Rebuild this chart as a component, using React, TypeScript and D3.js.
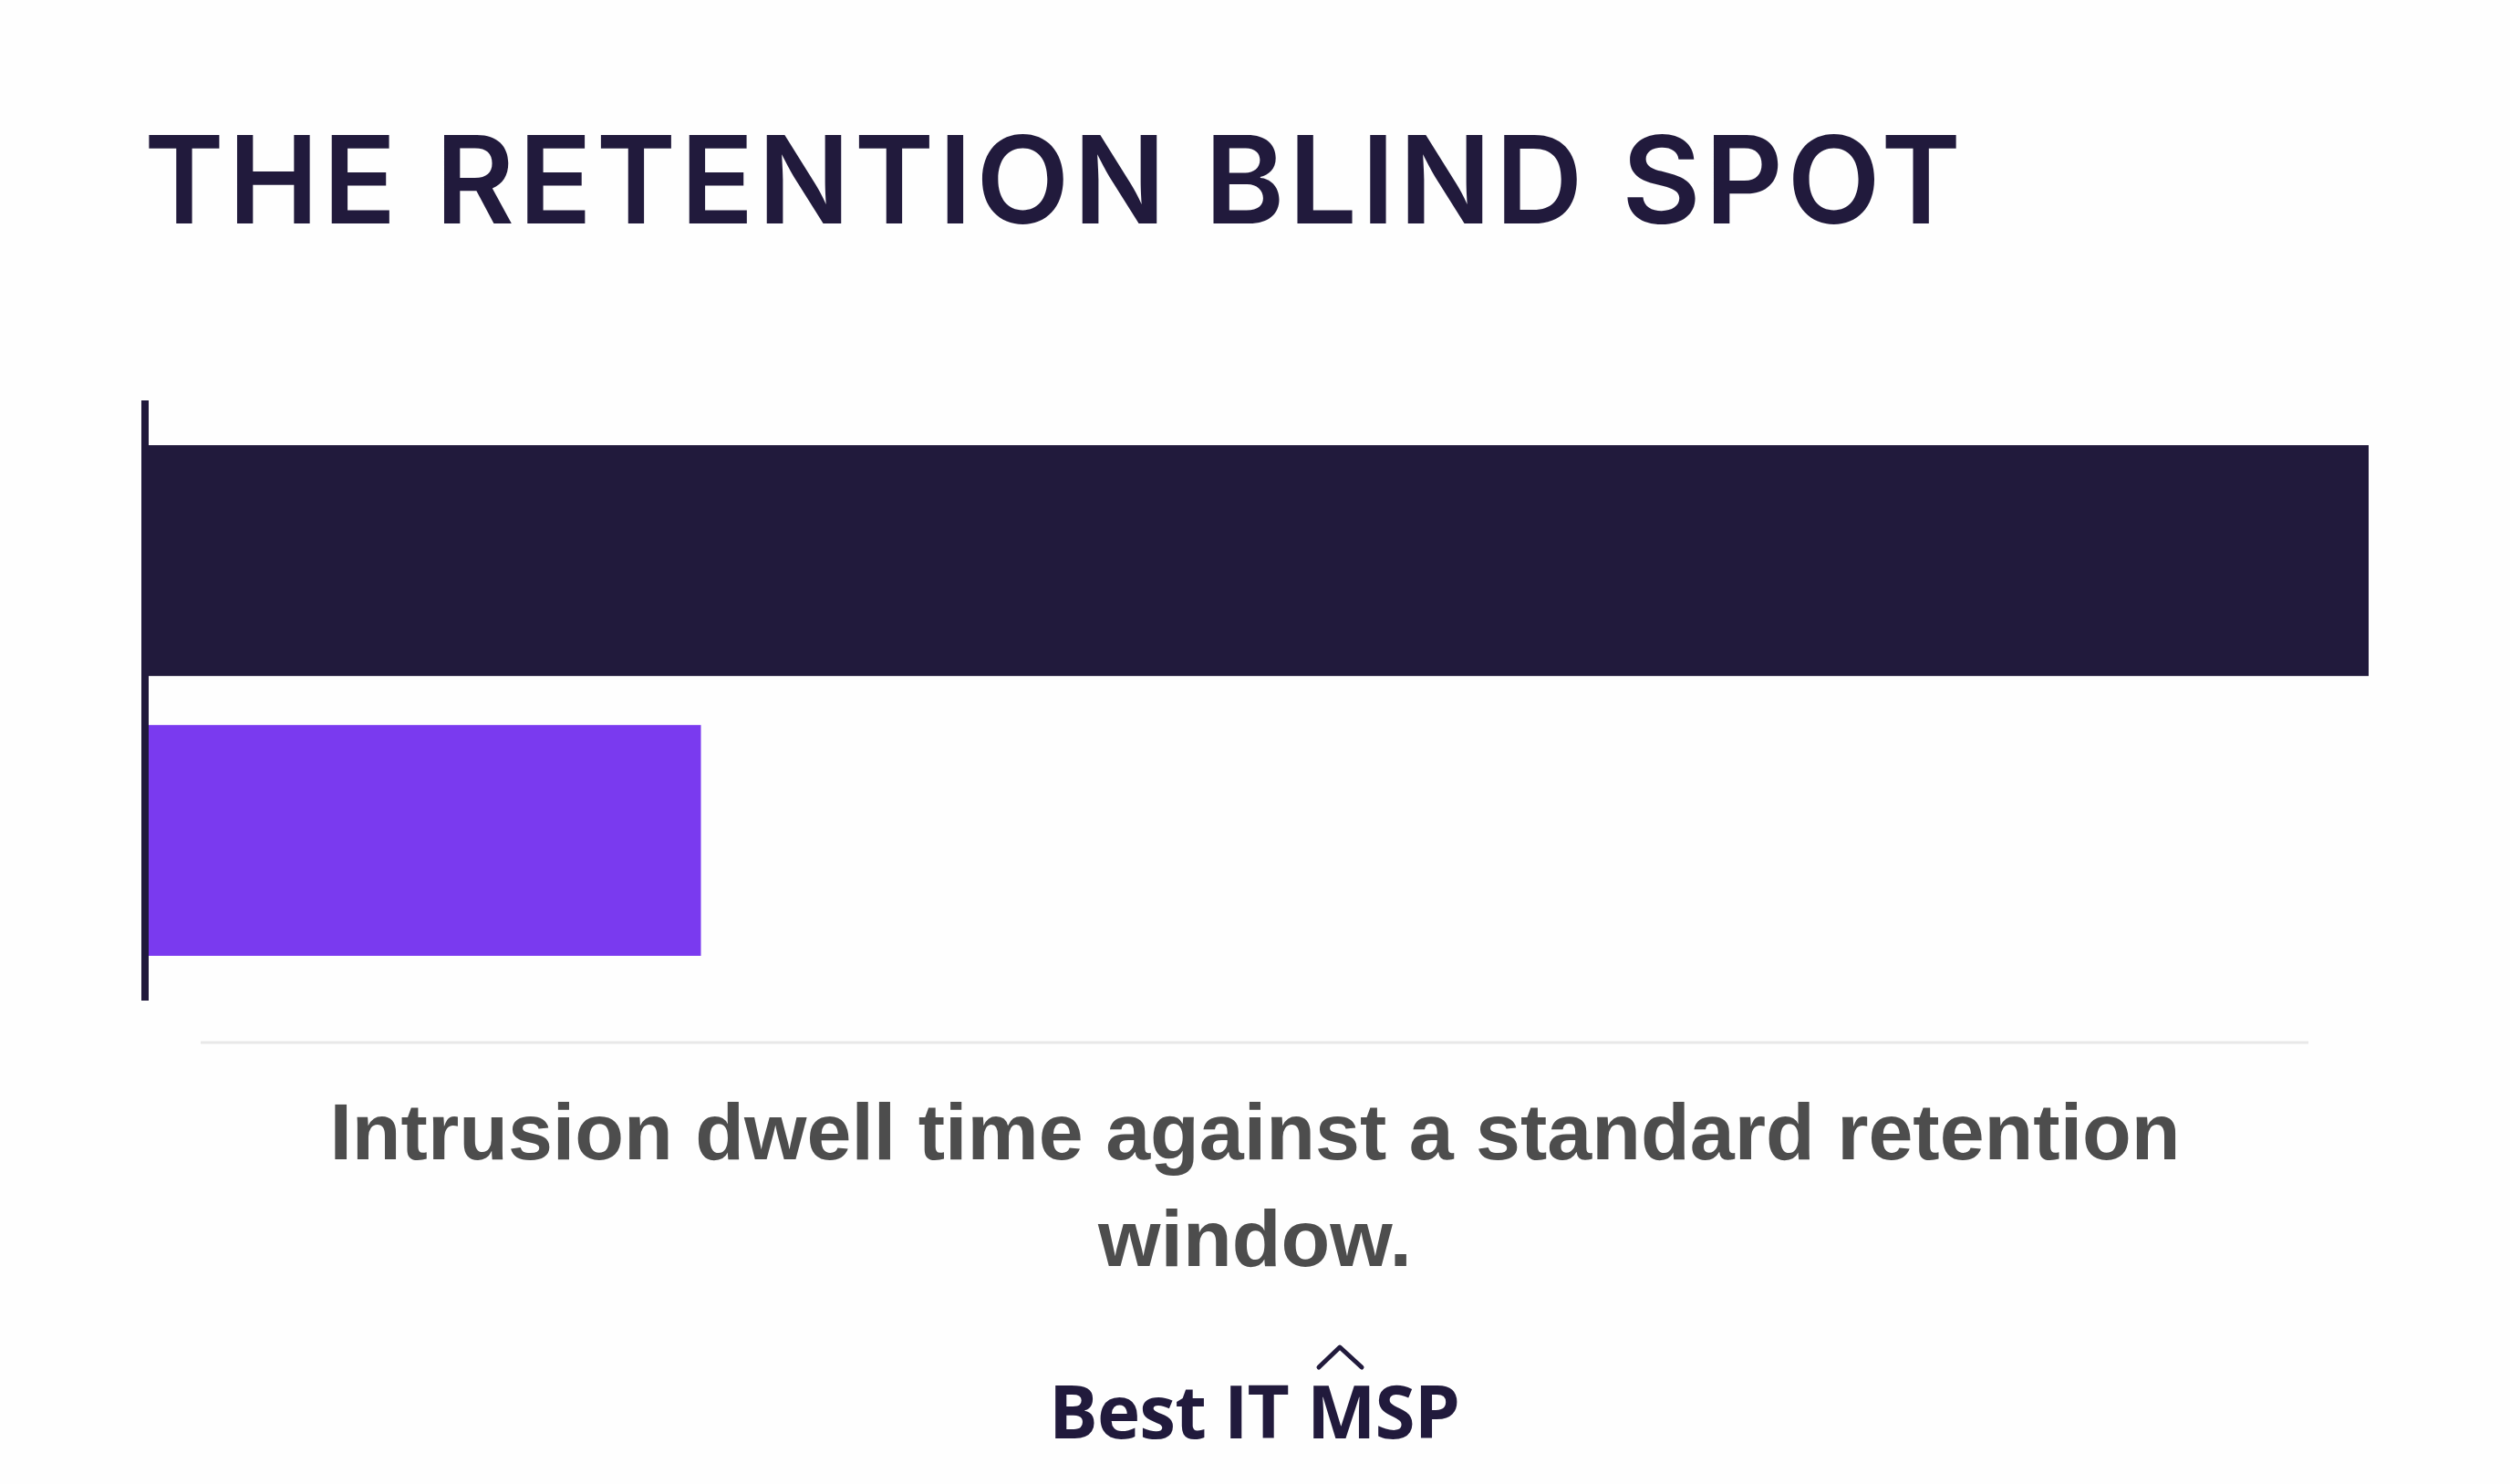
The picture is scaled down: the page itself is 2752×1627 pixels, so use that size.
import React, { useEffect } from "react";
import * as d3 from "d3";

const categories = ["Intrusion dwell time", "Standard retention window"];
const values = [360, 90];
const barColors = ["#211a3c", "#7a3aef"];

const title = "THE RETENTION BLIND SPOT";
const subtitleLines = ["Intrusion dwell time against a standard retention", "window."];
const brand = "Best IT MSP";

const W = 2752;
const H = 1627;

const App: React.FC = () => {
    useEffect(() => {
        document.body.style.margin = "0";
        document.body.style.background = "#fefefe";
    }, []);

    const x = d3.scaleLinear().domain([0, d3.max(values) || 1]).range([159, 2597]);
    const y = d3.scaleBand<string>()
        .domain(categories)
        .range([439, 1097])
        .paddingInner(0.175)
        .paddingOuter(0.16);

    return (
        <svg width={W} height={H} viewBox={`0 0 ${W} ${H}`} style={{ display: "block", background: "#fefefe" }}>
            <text
                x={158}
                y={245}
                fontFamily="Inter, 'Noto Sans', sans-serif"
                fontWeight={600}
                fontSize={133}
                fill="#211a3c"
                textLength={1992}
                lengthAdjust="spacing"
            >
                {title}
            </text>

            {categories.map((c, i) => (
                <rect
                    key={c}
                    x={x(0)}
                    y={y(c)}
                    width={x(values[i]) - x(0)}
                    height={y.bandwidth()}
                    fill={barColors[i]}
                />
            ))}

            {/* baseline axis */}
            <line x1={x(0)} x2={x(0)} y1={439} y2={1097} stroke="#211a3c" strokeWidth={8} />

            <line x1={220} x2={2531} y1={1143} y2={1143} stroke="#e8e8e8" strokeWidth={3} />

            {subtitleLines.map((line, i) => (
                <text
                    key={i}
                    x={W / 2}
                    y={1271 + i * 117}
                    textAnchor="middle"
                    fontFamily="'Liberation Sans', Arial, sans-serif"
                    fontWeight={700}
                    fontSize={88}
                    fill="#4d4d4d"
                >
                    {line}
                </text>
            ))}

            <text
                x={1150}
                y={1577}
                fontFamily="'Open Sans', 'Noto Sans', sans-serif"
                fontWeight={700}
                fontSize={80}
                fill="#211a3c"
                textLength={451}
                lengthAdjust="spacing"
            >
                {brand}
            </text>
            <polyline
                points="1446,1499 1469,1477 1493,1499"
                fill="none"
                stroke="#211a3c"
                strokeWidth={5}
                strokeLinecap="round"
                strokeLinejoin="round"
            />
        </svg>
    );
};

export default App;
